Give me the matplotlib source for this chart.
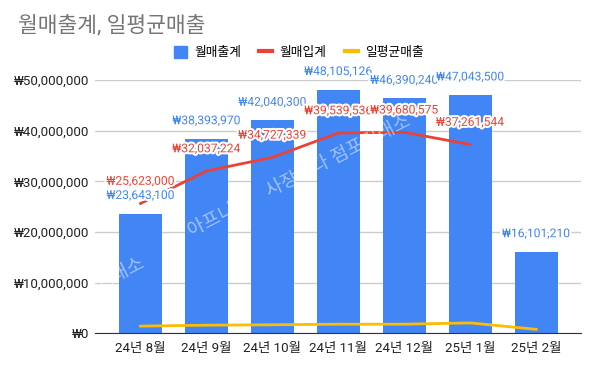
import numpy as np
import matplotlib.pyplot as plt
import matplotlib.patheffects as pe
from matplotlib.patches import Patch
from matplotlib.lines import Line2D

plt.rcParams['font.family'] = ['Roboto', 'Noto Sans CJK KR', 'DejaVu Sans']

# 데이터
months = ['24년 8월', '24년 9월', '24년 10월', '24년 11월', '24년 12월', '25년 1월', '25년 2월']
sales = [23643100, 38393970, 42040300, 48105126, 46390240, 47043500, 16101210]
purchases = [25623000, 32037224, 34727339, 39539536, 39680575, 37261544]
daily_avg = [1420000, 1600000, 1680000, 1800000, 1800000, 2050000, 780000]

BLUE = '#4285F4'
RED = '#EA4335'
YELLOW = '#FBBC04'

def won(v):
    return f'₩{v:,.0f}'

fig = plt.figure(figsize=(5.98, 3.70), dpi=100)
ax = fig.add_axes([0.1589, 0.0992, 0.9716 - 0.1589, 0.7838 - 0.0992])

x = np.arange(len(months))
ax.bar(x, sales, width=0.65, color=BLUE, zorder=2)
ax.plot(x[:len(purchases)], purchases, color=RED, lw=2, zorder=4)
ax.plot(x, daily_avg, color=YELLOW, lw=2, zorder=4)

ax.set_xlim(-0.69, 6.68)
ax.set_ylim(0, 50000000)
ax.set_yticks(np.arange(0, 50000001, 10000000))
ax.set_yticklabels([won(v) for v in ax.get_yticks()])
ax.set_xticks(x)
ax.set_xticklabels(months)
ax.tick_params(axis='both', length=0, labelsize=9.6, colors='#222222')
ax.tick_params(axis='y', pad=4)
ax.tick_params(axis='x', pad=6)
for s in ['top', 'right', 'left']:
    ax.spines[s].set_visible(False)
ax.spines['bottom'].set_color('#333333')
ax.spines['bottom'].set_zorder(5)
ax.grid(axis='y', color='#cccccc', lw=1, zorder=0)
ax.set_axisbelow(True)

# 워터마크
wm = dict(rotation=27, rotation_mode='anchor', va='center', color='white', alpha=0.5,
          fontsize=13.5, zorder=3)
fig.text(0.316, 0.370, '아프니까    사장이다 점포거래소', ha='left', **wm)
fig.text(0.240, 0.292, '거래소', ha='right', **wm)

halo = [pe.withStroke(linewidth=3, foreground='white')]
for i, v in enumerate(sales):
    ax.annotate(won(v), (x[i], v), xytext=(0, 13), textcoords='offset points', ha='center',
                va='center', color=BLUE, fontsize=8.7, path_effects=halo, zorder=6,
                annotation_clip=False)
for i, v in enumerate(purchases):
    ax.annotate(won(v), (x[i], v), xytext=(0, 16), textcoords='offset points', ha='center',
                va='center', color=RED, fontsize=8.7, path_effects=halo, zorder=7,
                annotation_clip=False)

fig.text(0.03, 0.932, '월매출계, 일평균매출', fontsize=15.5, color='#757575', va='center')

handles = [Patch(color=BLUE, label='월매출계'),
           Line2D([], [], color=RED, lw=3, label='월매입계'),
           Line2D([], [], color=YELLOW, lw=3, label='일평균매출')]
fig.legend(handles=handles, loc='center', bbox_to_anchor=(0.5, 0.857), ncol=3, frameon=False,
           fontsize=9.2, handlelength=1.0, handleheight=1.0, columnspacing=1.4, handletextpad=0.6)

fig.savefig('out.png', dpi=100)
